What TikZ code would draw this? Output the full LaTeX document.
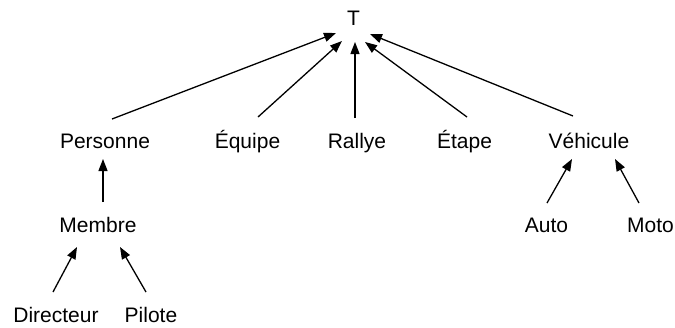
\documentclass[tikz,border=0pt]{standalone}
\usepackage{fontspec}
\setmainfont{Liberation Sans}
\usetikzlibrary{arrows.meta}
\begin{document}
\begin{tikzpicture}[x=1pt,y=-1pt,
  lbl/.style={anchor=base,inner sep=0pt,font=\fontsize{21}{21}\selectfont},
  arr/.style={line width=1.3pt,-{Triangle[length=12pt,width=9pt]}}]
\useasboundingbox (0,0) rectangle (675,327);
\node[lbl] (T) at (353.5,25) {T};
\node[lbl] (per) at (105,148) {Personne};
\node[lbl] (equ) at (247.5,148) {Équipe};
\node[lbl] (ral) at (357,148) {Rallye};
\node[lbl] (eta) at (464.5,148) {Étape};
\node[lbl] (veh) at (589,148) {Véhicule};
\node[lbl] (mem) at (98,232) {Membre};
\node[lbl] (aut) at (546.5,232) {Auto};
\node[lbl] (mot) at (650.5,232) {Moto};
\node[lbl] (dir) at (56,322) {Directeur};
\node[lbl] (pil) at (151,322) {Pilote};
% to T
\draw[arr] ([shift={(7,-29)}]per.base) -- ([shift={(-17.5,8)}]T.base);
\draw[arr] ([shift={(10.5,-31)}]equ.base) -- ([shift={(-11.5,16)}]T.base);
\draw[arr] ([shift={(-2,-30)}]ral.base) -- ([shift={(1.5,17)}]T.base);
\draw[arr] ([shift={(2.5,-31)}]eta.base) -- ([shift={(11.5,17)}]T.base);
\draw[arr] ([shift={(-16,-32)}]veh.base) -- ([shift={(16.5,9)}]T.base);
% Membre
\draw[arr] ([shift={(5,-30)}]mem.base) -- ([shift={(-2,11)}]per.base);
\draw[arr] ([shift={(-3,-30)}]dir.base) -- ([shift={(-21,15)}]mem.base);
\draw[arr] ([shift={(-5,-30)}]pil.base) -- ([shift={(22,15)}]mem.base);
% Vehicule
\draw[arr] ([shift={(0.5,-29)}]aut.base) -- ([shift={(-17,11)}]veh.base);
\draw[arr] ([shift={(-11.5,-29)}]mot.base) -- ([shift={(26,11)}]veh.base);
\end{tikzpicture}
\end{document}
